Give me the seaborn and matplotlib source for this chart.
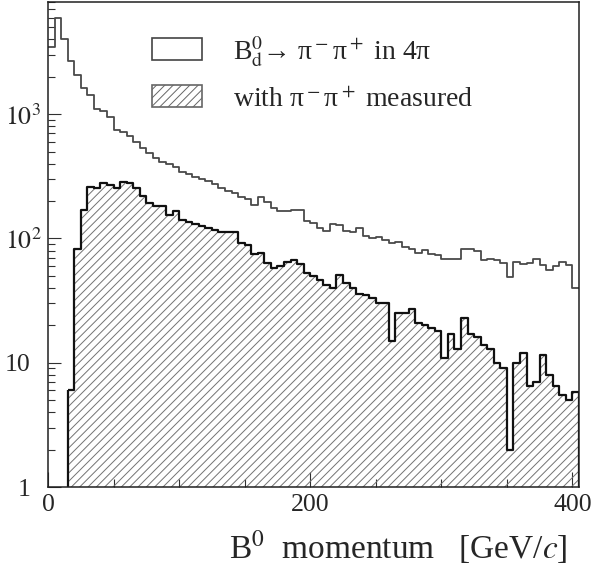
import numpy as np
import matplotlib
matplotlib.use("Agg")
import matplotlib.pyplot as plt
import seaborn as sns
from matplotlib.patches import Rectangle
from matplotlib.ticker import FixedLocator, FixedFormatter, LogLocator, NullFormatter, MultipleLocator

# ---------------- data ----------------
bin_width = 5          # GeV/c
x_max = 405            # GeV/c
edges = np.arange(0, x_max + bin_width, bin_width)
centers = edges[:-1] + bin_width / 2

# B0 -> pi- pi+ in 4pi (0 .. 405 GeV/c, 5 GeV bins)
all_decays = [3500, 5900, 4000, 2670, 2060, 1640, 1425, 1100, 1060, 950,
              740, 725, 662, 596, 534, 484, 444, 411, 397, 373,
              344, 330, 310, 300, 291, 274, 254, 242, 231, 217,
              207, 186, 217, 197, 175, 167, 167, 171, 171, 139,
              134, 122, 115, 131, 128, 115, 113, 121, 105, 100,
              102, 98, 92, 94, 86, 83, 76, 81, 75, 74,
              68, 68, 68, 83, 83, 80, 67, 69, 67, 64,
              49, 65, 62, 64, 69, 61, 56, 60, 65, 61,
              40]

# with pi- pi+ measured (starts at 15 GeV/c)
measured_start = 15
measured = [6, 83, 171, 262, 255, 280, 269, 253, 286, 280,
            253, 218, 192, 184, 183, 155, 167, 140, 135, 131,
            127, 122, 117, 113, 113, 112, 92, 88, 75, 77,
            63, 58, 60, 65, 67, 62, 53, 50, 46, 42,
            40, 51, 44, 40, 36, 35, 33, 30, 30, 15,
            25, 25, 27, 21, 20, 19, 18, 11, 17, 13,
            23, 17, 16, 14, 13, 10, 9, 2, 10, 12,
            6.5, 7, 11.5, 8, 6.5, 5.5, 5, 5.8]

x_ticks = [0, 200, 400]
x_tick_labels = ["0", "200", "400"]
y_ticks = [1, 10, 100, 1000]
y_tick_labels = ["  1", "10", "$10^2$", "$10^3$"]
legend_labels = ["B$_\\mathrm{d}^0$\u2192 \u03c0$^-$\u03c0$^+$ in 4\u03c0",
                 "with \u03c0$^-$\u03c0$^+$ measured"]
x_label = "B$^0$  momentum   [GeV/$c$]"

# ---------------- style ----------------
sns.set_style("white")
plt.rcParams["font.family"] = ["Liberation Serif", "DejaVu Serif"]
plt.rcParams["mathtext.fontset"] = "stix"
plt.rcParams["hatch.linewidth"] = 0.7
plt.rcParams["hatch.color"] = "#737373"
plt.rcParams["axes.linewidth"] = 1.1
plt.rcParams["axes.edgecolor"] = "#202020"

fig = plt.figure(figsize=(5.95, 5.66), dpi=100)
ax = fig.add_axes([48 / 595, 1 - 487 / 566, 531 / 595, 485 / 566])
ax.set_yscale("log")

m_edges = edges[edges >= measured_start]
m_centers = m_edges[:-1] + bin_width / 2

# upper open histogram
sns.histplot(x=centers, weights=all_decays, bins=edges.tolist(), element="step",
             fill=False, color="#4a4a4a", linewidth=1.3, ax=ax)
# hatched fill
sns.histplot(x=m_centers, weights=measured, bins=m_edges.tolist(), element="step",
             fill=True, color="#737373", facecolor="none", edgecolor="#737373",
             linewidth=0, hatch="////", ax=ax)
# black outline of the measured histogram
sns.histplot(x=m_centers, weights=measured, bins=m_edges.tolist(), element="step",
             fill=True, color="#111111", facecolor="none", edgecolor="#111111",
             linewidth=1.6, ax=ax)

ax.set_xlim(0, x_max)
ax.set_ylim(1, 8000)
ax.set_ylabel("")

ax.xaxis.set_major_locator(FixedLocator(x_ticks))
ax.xaxis.set_major_formatter(FixedFormatter(x_tick_labels))
ax.xaxis.set_minor_locator(MultipleLocator(50))
ax.yaxis.set_major_locator(FixedLocator(y_ticks))
ax.yaxis.set_major_formatter(FixedFormatter(y_tick_labels))
ax.yaxis.set_minor_locator(LogLocator(base=10, subs=np.arange(2, 10)))
ax.yaxis.set_minor_formatter(NullFormatter())

ax.tick_params(which="both", direction="in", top=False, right=False,
               left=True, bottom=True, color="#303030", width=0.8)
ax.tick_params(axis="x", which="major", length=11, pad=5, labelsize=18.5)
ax.tick_params(axis="x", which="minor", length=6)
ax.tick_params(axis="y", which="major", length=9, pad=31, labelsize=18.5)
ax.tick_params(axis="y", which="minor", length=5)
plt.setp(ax.get_yticklabels(), ha="left")

ax.set_xlabel(x_label, fontsize=24, ha="right", va="baseline")
ax.xaxis.set_label_coords(0.979, -0.1464)

# legend (drawn in axes coordinates)
ax.add_patch(Rectangle((0.1953, 0.8804), 0.0942, 0.046, transform=ax.transAxes,
                       facecolor="white", edgecolor="#444444", linewidth=1.2,
                       clip_on=False))
ax.add_patch(Rectangle((0.1953, 0.7841), 0.0942, 0.0448, transform=ax.transAxes,
                       facecolor="white", edgecolor="#666666", linewidth=1.2,
                       hatch="////", clip_on=False))
ax.text(0.349, 0.8804, legend_labels[0], transform=ax.transAxes, fontsize=20,
        va="baseline", ha="left")
ax.text(0.349, 0.7841, legend_labels[1], transform=ax.transAxes, fontsize=20,
        va="baseline", ha="left")

fig.savefig("out.png", dpi=100)
